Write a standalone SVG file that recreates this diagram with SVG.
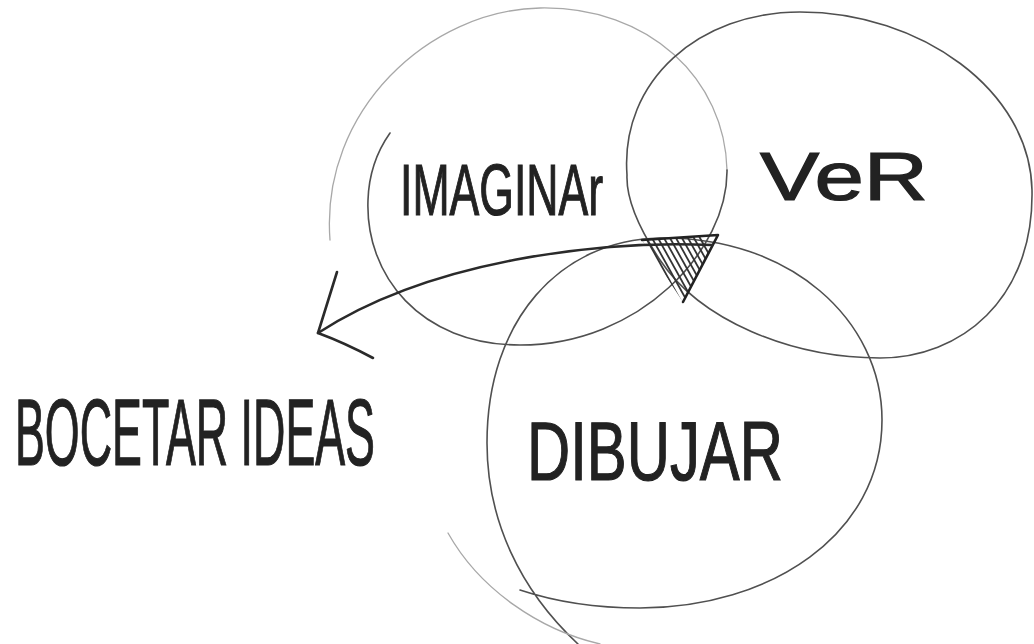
<svg xmlns="http://www.w3.org/2000/svg" width="1034" height="644" viewBox="0 0 1034 644">
<style>
.loop{fill:none;stroke:#505050;stroke-width:1.6;stroke-linecap:round}
.faint{fill:none;stroke:#a8a8a8;stroke-width:1.3;stroke-linecap:round}
.lbl{font-family:"Liberation Sans Narrow","Liberation Sans",sans-serif;fill:#222;stroke:#222;stroke-width:1.2}
.arrow{fill:none;stroke:#2a2a2a;stroke-width:2.6;stroke-linecap:round;stroke-linejoin:round}
.hatch{stroke:#333;stroke-width:1.8}
</style>
<defs>
<clipPath id="tri"><polygon points="642,240 718,235 683,302"/></clipPath>
</defs>
<rect width="1034" height="644" fill="#fff"/>
<g id="imaginar">
<path class="faint" d="M330,240 C320,110 430,10 540,8 C650,6 725,80 727,170"/>
<path class="loop" d="M727,170 C728,250 640,345 520,345 C420,345 365,275 368,200 C369,170 378,150 390,133"/>
<text class="lbl" x="400" y="215" font-size="72" textLength="203" lengthAdjust="spacingAndGlyphs">IMAGINAr</text>
</g>
<g id="ver">
<path class="loop" d="M627,175 C620,80 700,12 800,12 C920,12 1030,90 1032,190 C1034,300 960,358 880,358 C790,358 700,320 660,260 C640,230 626,200 627,175 Z"/>
<text class="lbl" x="760" y="200" font-size="68" textLength="168" lengthAdjust="spacingAndGlyphs">VeR</text>
</g>
<g id="dibujar">
<path class="loop" d="M578,644 C520,590 487,520 487,443 C487,320 560,240 660,238 C790,236 882,320 882,420 C882,535 770,608 640,608 C590,608 550,600 520,590"/>
<path class="faint" d="M448,533 C480,590 540,630 600,644"/>
<text class="lbl" x="527" y="480" font-size="84" textLength="256" lengthAdjust="spacingAndGlyphs">DIBUJAR</text>
</g>
<g id="interseccion">
<g clip-path="url(#tri)">
<line class="hatch" x1="606" y1="220" x2="656" y2="310"/>
<line class="hatch" x1="612" y1="220" x2="662" y2="310"/>
<line class="hatch" x1="618" y1="220" x2="668" y2="310"/>
<line class="hatch" x1="624" y1="220" x2="674" y2="310"/>
<line class="hatch" x1="630" y1="220" x2="680" y2="310"/>
<line class="hatch" x1="636" y1="220" x2="686" y2="310"/>
<line class="hatch" x1="642" y1="220" x2="692" y2="310"/>
<line class="hatch" x1="648" y1="220" x2="698" y2="310"/>
<line class="hatch" x1="654" y1="220" x2="704" y2="310"/>
<line class="hatch" x1="660" y1="220" x2="710" y2="310"/>
<line class="hatch" x1="666" y1="220" x2="716" y2="310"/>
<line class="hatch" x1="672" y1="220" x2="722" y2="310"/>
<line class="hatch" x1="678" y1="220" x2="728" y2="310"/>
<line class="hatch" x1="684" y1="220" x2="734" y2="310"/>
<line class="hatch" x1="690" y1="220" x2="740" y2="310"/>
</g>
<path d="M642,240 L718,235 L683,302" stroke="#222" stroke-width="2.6" fill="none" stroke-linecap="round" stroke-linejoin="round"/>
</g>
<g id="bocetar">
<text class="lbl" x="15" y="465" font-size="94" textLength="360" lengthAdjust="spacingAndGlyphs">BOCETAR IDEAS</text>
</g>
<g id="connectors">
<path class="arrow" d="M712,245 C600,240 430,260 318,333"/>
<path class="arrow" d="M337,272 L318,333 Q345,343 373,358"/>
</g>
</svg>
